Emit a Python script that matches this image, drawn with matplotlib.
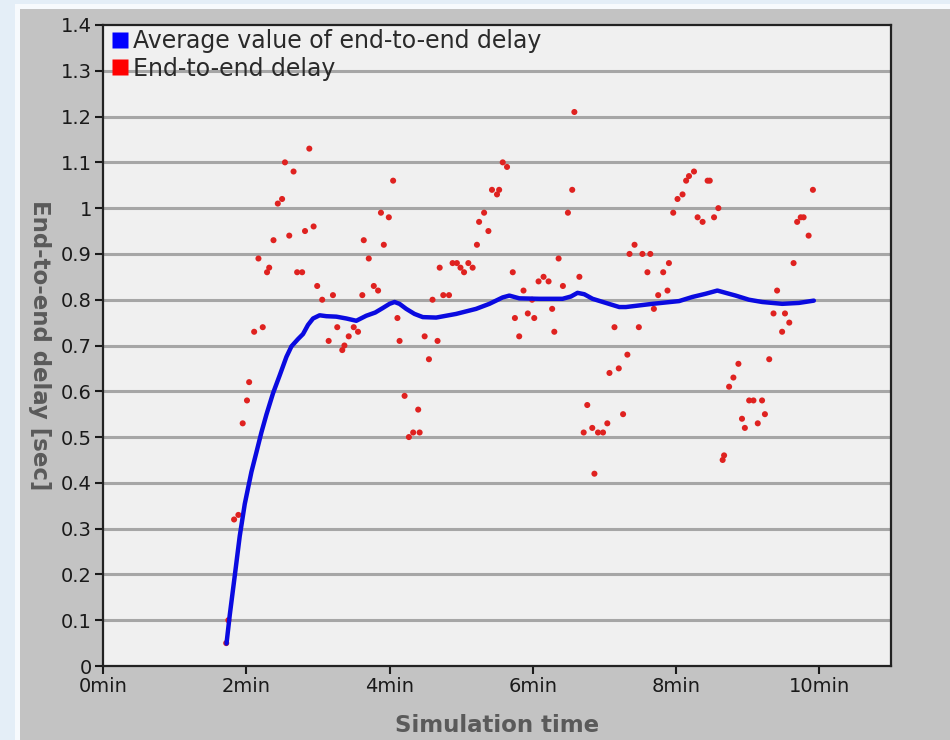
import numpy as np
import matplotlib
matplotlib.use("Agg")
import matplotlib.pyplot as plt
from matplotlib.lines import Line2D
from matplotlib.patches import Rectangle

# Simulation time in minutes / end-to-end delay in seconds
delay_t = [1.72, 1.75, 1.83, 1.89, 1.95, 2.01, 2.04, 2.11, 2.17, 2.23, 2.29, 2.32,
           2.38, 2.44, 2.50, 2.54, 2.60, 2.66, 2.71, 2.78, 2.82, 2.88, 2.94, 2.99,
           3.06, 3.15, 3.21, 3.27, 3.34, 3.37, 3.43, 3.50, 3.56, 3.62, 3.64, 3.71,
           3.78, 3.84, 3.88, 3.92, 3.99, 4.05, 4.11, 4.14, 4.21, 4.27, 4.33, 4.40,
           4.42, 4.49, 4.55, 4.60, 4.67, 4.70, 4.75, 4.83, 4.88, 4.94, 4.99, 5.04,
           5.10, 5.16, 5.22, 5.25, 5.32, 5.38, 5.43, 5.50, 5.53, 5.58, 5.64, 5.72,
           5.75, 5.81, 5.87, 5.93, 5.99, 6.02, 6.08, 6.15, 6.22, 6.27, 6.30, 6.36,
           6.42, 6.49, 6.55, 6.58, 6.65, 6.71, 6.76, 6.83, 6.86, 6.91, 6.98, 7.04,
           7.07, 7.14, 7.20, 7.26, 7.32, 7.35, 7.42, 7.48, 7.53, 7.60, 7.64, 7.69,
           7.75, 7.82, 7.88, 7.90, 7.96, 8.02, 8.09, 8.14, 8.18, 8.25, 8.30, 8.37,
           8.44, 8.47, 8.53, 8.59, 8.65, 8.67, 8.74, 8.80, 8.87, 8.92, 8.96, 9.02,
           9.08, 9.14, 9.20, 9.24, 9.30, 9.36, 9.41, 9.48, 9.52, 9.58, 9.64, 9.69,
           9.74, 9.78, 9.85, 9.91]
delay_v = [0.05, 0.10, 0.32, 0.33, 0.53, 0.58, 0.62, 0.73, 0.89, 0.74, 0.86, 0.87,
           0.93, 1.01, 1.02, 1.10, 0.94, 1.08, 0.86, 0.86, 0.95, 1.13, 0.96, 0.83,
           0.80, 0.71, 0.81, 0.74, 0.69, 0.70, 0.72, 0.74, 0.73, 0.81, 0.93, 0.89,
           0.83, 0.82, 0.99, 0.92, 0.98, 1.06, 0.76, 0.71, 0.59, 0.50, 0.51, 0.56,
           0.51, 0.72, 0.67, 0.80, 0.71, 0.87, 0.81, 0.81, 0.88, 0.88, 0.87, 0.86,
           0.88, 0.87, 0.92, 0.97, 0.99, 0.95, 1.04, 1.03, 1.04, 1.10, 1.09, 0.86,
           0.76, 0.72, 0.82, 0.77, 0.80, 0.76, 0.84, 0.85, 0.84, 0.78, 0.73, 0.89,
           0.83, 0.99, 1.04, 1.21, 0.85, 0.51, 0.57, 0.52, 0.42, 0.51, 0.51, 0.53,
           0.64, 0.74, 0.65, 0.55, 0.68, 0.90, 0.92, 0.74, 0.90, 0.86, 0.90, 0.78,
           0.81, 0.86, 0.82, 0.88, 0.99, 1.02, 1.03, 1.06, 1.07, 1.08, 0.98, 0.97,
           1.06, 1.06, 0.98, 1.00, 0.45, 0.46, 0.61, 0.63, 0.66, 0.54, 0.52, 0.58,
           0.58, 0.53, 0.58, 0.55, 0.67, 0.77, 0.82, 0.73, 0.77, 0.75, 0.88, 0.97,
           0.98, 0.98, 0.94, 1.04]

# running average
avg_t = [1.724, 1.770, 1.840, 1.909, 1.979, 2.072, 2.142, 2.211, 2.281, 2.374,
         2.467, 2.560, 2.630, 2.722, 2.792, 2.862, 2.932, 3.024, 3.118, 3.257,
         3.397, 3.536, 3.675, 3.800, 3.907, 4.000, 4.070, 4.139, 4.233, 4.348,
         4.464, 4.651, 4.930, 5.208, 5.394, 5.579, 5.672, 5.812, 6.091, 6.415,
         6.532, 6.624, 6.718, 6.834, 7.020, 7.206, 7.299, 7.670, 8.042, 8.227,
         8.413, 8.576, 8.692, 8.832, 9.017, 9.203, 9.482, 9.714, 9.923]
avg_v = [0.049, 0.112, 0.198, 0.284, 0.354, 0.424, 0.467, 0.510, 0.549, 0.596,
         0.635, 0.675, 0.698, 0.714, 0.725, 0.745, 0.759, 0.766, 0.764, 0.763,
         0.759, 0.754, 0.765, 0.772, 0.782, 0.791, 0.795, 0.791, 0.780, 0.769,
         0.762, 0.761, 0.769, 0.780, 0.791, 0.805, 0.809, 0.803, 0.802, 0.802,
         0.807, 0.815, 0.812, 0.802, 0.793, 0.784, 0.784, 0.791, 0.797, 0.806,
         0.813, 0.820, 0.815, 0.809, 0.800, 0.795, 0.791, 0.793, 0.798]

xticks = [0, 2, 4, 6, 8, 10]
xticklabels = ["0min", "2min", "4min", "6min", "8min", "10min"]
yticks = [0, 0.1, 0.2, 0.3, 0.4, 0.5, 0.6, 0.7, 0.8, 0.9, 1.0, 1.1, 1.2, 1.3, 1.4]
yticklabels = ["0", "0.1", "0.2", "0.3", "0.4", "0.5", "0.6", "0.7", "0.8", "0.9",
               "1", "1.1", "1.2", "1.3", "1.4"]

W, H = 950, 740
fig = plt.figure(figsize=(9.5, 7.4), dpi=100, facecolor="#e4eef7")
# white border and grey panel behind the chart
fig.patches.append(Rectangle((15 / W, 0), 1, 1 - 4 / H, transform=fig.transFigure,
                             facecolor="#f7fafd", edgecolor="none", zorder=-2))
fig.patches.append(Rectangle((20 / W, 0), 1, 1 - 9 / H, transform=fig.transFigure,
                             facecolor="#c3c3c3", edgecolor="none", zorder=-1))

ax = fig.add_axes([103 / W, 1 - 666 / H, (891 - 103) / W, (666 - 25) / H])
ax.set_facecolor("#f0f0f0")
ax.set_xlim(0, 11)
ax.set_ylim(0, 1.4)

for y in yticks[1:-1]:
    ax.axhline(y, color="#a6a6a6", lw=2.2, zorder=1)

ax.scatter(delay_t, delay_v, s=19, color="#df2220", edgecolors="none", zorder=3)
ax.plot(avg_t, avg_v, color="#0a0ae0", lw=3.2, zorder=4,
        solid_capstyle="round", solid_joinstyle="round")

ax.set_xticks(xticks)
ax.set_xticklabels(xticklabels)
ax.set_yticks(yticks)
ax.set_yticklabels(yticklabels)
ax.tick_params(direction="out", length=6, width=1.5, labelsize=14, pad=2,
               colors="#1a1a1a")
for s in ax.spines.values():
    s.set_color("#222222")
    s.set_linewidth(1.6)

ax.set_xlabel("Simulation time", fontsize=16.5, fontweight="bold", color="#5a5a5a",
              labelpad=13)
ax.set_ylabel("End-to-end delay [sec]", fontsize=16.5, fontweight="bold",
              color="#5a5a5a", rotation=-90, labelpad=24)

handles = [Line2D([], [], marker="s", linestyle="none", markersize=11,
                  markerfacecolor="#0000ff", markeredgecolor="none"),
           Line2D([], [], marker="s", linestyle="none", markersize=11,
                  markerfacecolor="#ff0000", markeredgecolor="none")]
leg = ax.legend(handles, ["Average value of end-to-end delay", "End-to-end delay"],
                loc="upper left", bbox_to_anchor=(0.006, 1.001), frameon=False,
                fontsize=17, handlelength=0.6, handletextpad=0.25,
                labelspacing=0.15, borderaxespad=0.0, borderpad=0.2)
for t in leg.get_texts():
    t.set_color("#2a2a2a")

fig.savefig("out.png", dpi=100, facecolor=fig.get_facecolor())
